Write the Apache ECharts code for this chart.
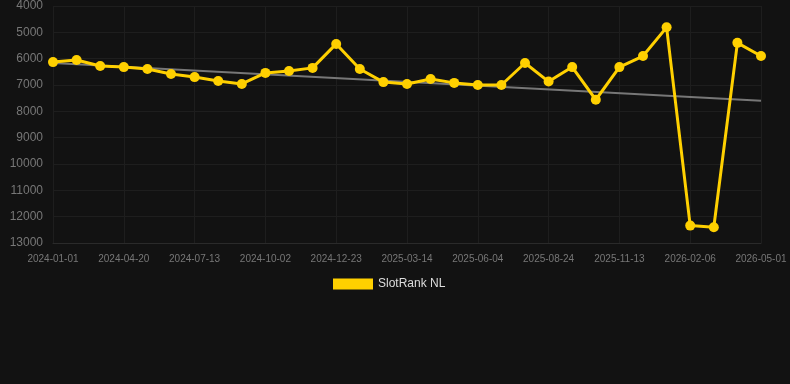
<!DOCTYPE html>
<html>
<head>
<meta charset="utf-8">
<script src="https://cdn.jsdelivr.net/npm/echarts@6/dist/echarts.min.js"></script>
<style>
  html, body { margin: 0; padding: 0; background: #121212; }
  #main { width: 790px; height: 384px; }
</style>
</head>
<body>
<div id="main"></div>
<script>
// dates on the x axis (category)
const dates = [
  '2024-01-01', '2024-02-06', '2024-03-14', '2024-04-20', '2024-05-18', '2024-06-15',
  '2024-07-13', '2024-08-09', '2024-09-05', '2024-10-02', '2024-10-29', '2024-11-26',
  '2024-12-23', '2025-01-19', '2025-02-16', '2025-03-14', '2025-04-10', '2025-05-08',
  '2025-06-04', '2025-07-01', '2025-07-28', '2025-08-24', '2025-09-20', '2025-10-17',
  '2025-11-13', '2025-12-11', '2026-01-08', '2026-02-06', '2026-03-06', '2026-04-03',
  '2026-05-01'
]
// rank values
const rankNL = [
  6130, 6050, 6280, 6320, 6390, 6580, 6700, 6850, 6960, 6540,
  6470, 6350, 5440, 6390, 6890, 6960, 6770, 6920, 7000, 7000,
  6165, 6870, 6320, 7560, 6320, 5900, 4810, 12340, 12400, 5400,
  5900
]
// trend line, only the two ends are known
const trendStart = 6165
const trendEnd = 7600
const trend = dates.map((d, i) => (i === 0 ? trendStart : i === dates.length - 1 ? trendEnd : null))

let myChart = echarts.init(document.getElementById('main'))
myChart.setOption({
  backgroundColor: '#121212',
  animation: false,
  grid: { left: 53, right: 29, top: 6, bottom: 141 },
  legend: {
    data: ['SlotRank NL'],
    top: 273,
    left: 328,
    icon: 'rect',
    itemWidth: 40,
    itemHeight: 11,
    textStyle: { color: '#dddddd', fontSize: 12, fontFamily: 'Liberation Sans, Arial, sans-serif' }
  },
  xAxis: {
    type: 'category',
    data: dates,
    boundaryGap: false,
    axisLine: { lineStyle: { color: '#2a2a2a' } },
    axisTick: { show: false },
    axisLabel: { interval: 2, margin: 11, color: '#777777', fontSize: 10, fontFamily: 'Liberation Sans, Arial, sans-serif' },
    splitLine: { show: true, interval: 2, lineStyle: { color: '#1e1e1e' } }
  },
  yAxis: {
    type: 'value',
    inverse: true,
    min: 4000,
    max: 13000,
    interval: 1000,
    axisLine: { show: false },
    axisTick: { show: false },
    axisLabel: {
      color: '#777777',
      fontSize: 12,
      margin: 10,
      fontFamily: 'Liberation Sans, Arial, sans-serif',
      formatter: v => String(v)
    },
    splitLine: { lineStyle: { color: '#1e1e1e' } }
  },
  series: [
    {
      name: 'trend',
      type: 'line',
      data: trend,
      connectNulls: true,
      showSymbol: false,
      symbol: 'none',
      lineStyle: { color: '#777777', width: 2 },
      z: 1
    },
    {
      name: 'SlotRank NL',
      type: 'line',
      data: rankNL,
      color: '#ffd000',
      symbol: 'circle',
      symbolSize: 10,
      lineStyle: { color: '#ffd000', width: 3 },
      itemStyle: { color: '#ffd000' },
      z: 2
    }
  ]
})
</script>
</body>
</html>
